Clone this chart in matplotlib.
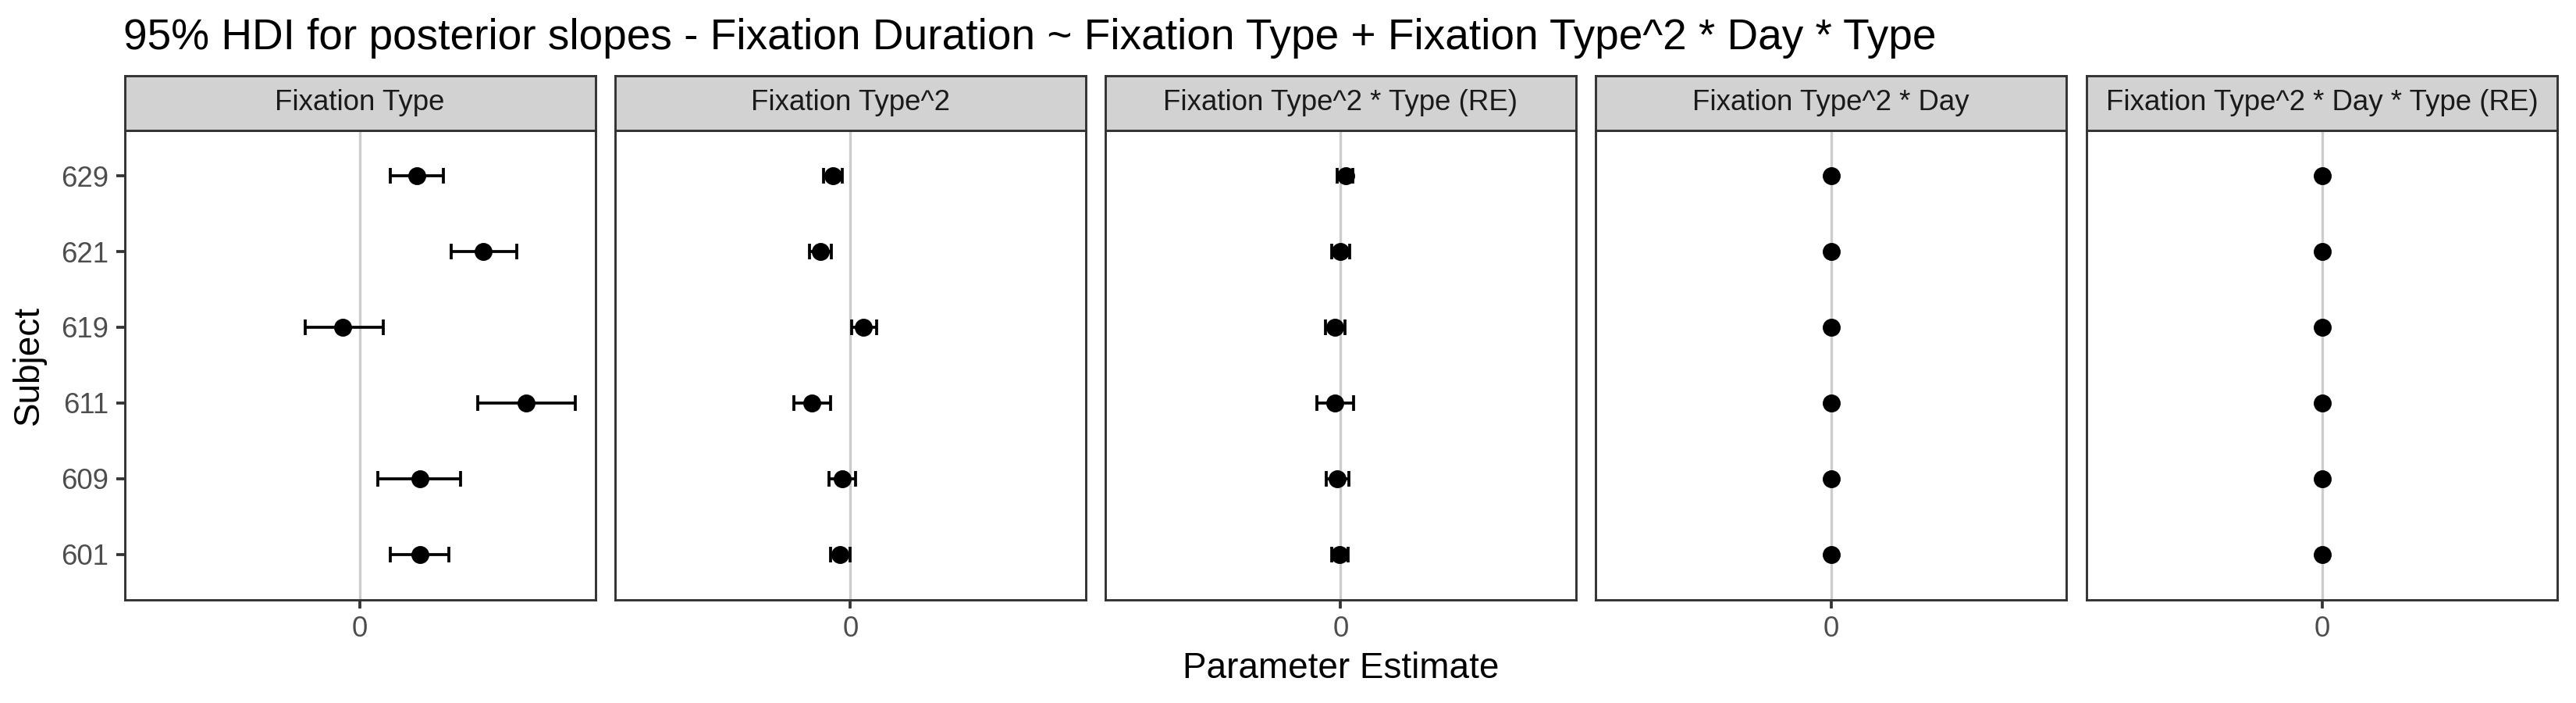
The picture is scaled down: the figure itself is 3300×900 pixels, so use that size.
import matplotlib
matplotlib.use("Agg")
import matplotlib.pyplot as plt
import numpy as np

plt.rcParams['font.family'] = ['Liberation Sans', 'DejaVu Sans']

# subjects, bottom to top
subjects = ["601", "609", "611", "619", "621", "629"]

facets = ["Fixation Type", "Fixation Type^2", "Fixation Type^2 * Type (RE)",
          "Fixation Type^2 * Day", "Fixation Type^2 * Day * Type (RE)"]

# estimates and 95% HDI bounds, one list per facet (order = subjects)
ft_est = [0.254, 0.257, 0.705, -0.073, 0.525, 0.243]
ft_lo = [0.131, 0.076, 0.502, -0.231, 0.388, 0.131]
ft_hi = [0.378, 0.429, 0.914, 0.099, 0.666, 0.354]

ft2_est = [-0.045, -0.036, -0.164, 0.056, -0.127, -0.075]
ft2_lo = [-0.085, -0.092, -0.239, 0.004, -0.174, -0.114]
ft2_hi = [0.000, 0.023, -0.084, 0.112, -0.082, -0.035]

ft2type_est = [-0.003, -0.014, -0.024, -0.024, 0.000, 0.021]
ft2type_lo = [-0.037, -0.061, -0.099, -0.065, -0.037, -0.014]
ft2type_hi = [0.032, 0.034, 0.056, 0.018, 0.038, 0.052]

ft2day_est = [0.0, 0.0, 0.0, 0.0, 0.0, 0.0]
ft2day_lo = [0.0, 0.0, 0.0, 0.0, 0.0, 0.0]
ft2day_hi = [0.0, 0.0, 0.0, 0.0, 0.0, 0.0]

ft2daytype_est = [0.0, 0.0, 0.0, 0.0, 0.0, 0.0]
ft2daytype_lo = [0.0, 0.0, 0.0, 0.0, 0.0, 0.0]
ft2daytype_hi = [0.0, 0.0, 0.0, 0.0, 0.0, 0.0]

series = [(ft_est, ft_lo, ft_hi), (ft2_est, ft2_lo, ft2_hi),
          (ft2type_est, ft2type_lo, ft2type_hi),
          (ft2day_est, ft2day_lo, ft2day_hi),
          (ft2daytype_est, ft2daytype_lo, ft2daytype_hi)]

W, H = 3300.0, 900.0
fig = plt.figure(figsize=(11, 3), dpi=300)

lefts = [159.5, 787.9, 1415.8, 2044.0, 2673.0]
pw = 603.0
ptop, pbot = 167.0, 767.7
stop = 96.7

ypos = np.arange(1, len(subjects) + 1)

for i, (name, (est, lo, hi)) in enumerate(zip(facets, series)):
    ax = fig.add_axes([lefts[i] / W, 1 - pbot / H, pw / W, (pbot - ptop) / H])
    est = np.array(est)
    lo = np.array(lo)
    hi = np.array(hi)
    ax.axvline(0, color="#cccccc", lw=0.8, zorder=1)
    ax.errorbar(est, ypos, xerr=[est - lo, hi - est], fmt="o", color="black",
                ms=4.5, capsize=2.3, elinewidth=0.9, capthick=0.9, zorder=3)
    ax.set_xlim(-1, 1)
    ax.set_ylim(0.4, len(subjects) + 0.6)
    ax.set_xticks([0])
    ax.set_xticklabels(["0"])
    ax.set_yticks(ypos)
    if i == 0:
        ax.set_yticklabels(subjects)
    else:
        ax.tick_params(axis="y", left=False, labelleft=False)
    ax.tick_params(length=2.75, width=0.9, color="#333333", labelsize=8.8,
                   labelcolor="#4d4d4d", pad=2.2)
    for s in ax.spines.values():
        s.set_color("#333333")
        s.set_linewidth(0.7)

    sax = fig.add_axes([lefts[i] / W, 1 - ptop / H, pw / W, (ptop - stop) / H])
    sax.set_facecolor("#d2d2d2")
    sax.set_xticks([])
    sax.set_yticks([])
    for s in sax.spines.values():
        s.set_color("#333333")
        s.set_linewidth(0.7)
    sax.text(0.5, 0.5, name, ha="center", va="center", fontsize=8.8,
             color="#1a1a1a", transform=sax.transAxes)

fig.text(158 / W, 1 - 63 / H, "95% HDI for posterior slopes - Fixation Duration ~ "
         "Fixation Type + Fixation Type^2 * Day * Type",
         fontsize=13.2, ha="left", va="baseline")
fig.text(37 / W, 1 - 467 / H, "Subject", rotation=90, fontsize=11,
         ha="center", va="center")
fig.text(1718 / W, 1 - 868 / H, "Parameter Estimate", fontsize=11,
         ha="center", va="baseline")

fig.savefig("out.png", dpi=300, facecolor="white")
